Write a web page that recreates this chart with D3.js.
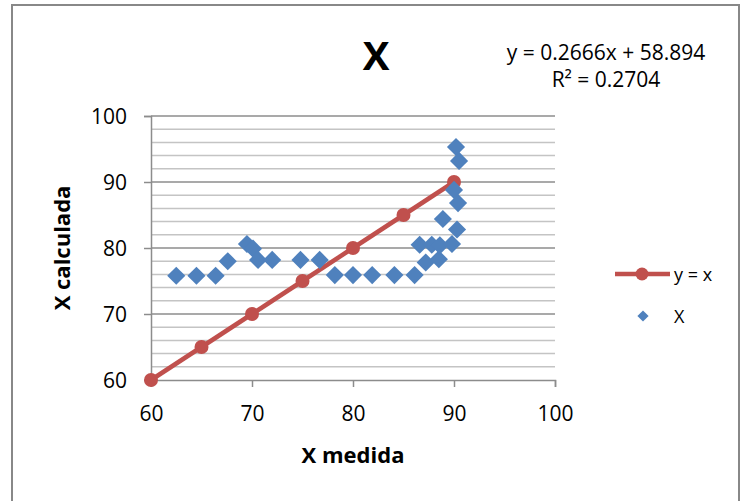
<!DOCTYPE html>
<html><head><meta charset="utf-8">
<script src="https://cdn.jsdelivr.net/npm/d3@7"></script>
<style>body{margin:0;background:#fff}svg{display:block}</style>
</head><body>
<svg id="c" width="745" height="501"></svg>
<script>
// Data
const lineX = [60, 65, 70, 75, 80, 85, 90];
const lineY = [60, 65, 70, 75, 80, 85, 90];
const scatX = [62.5, 64.5, 66.4, 67.6, 69.5, 70.1, 70.6, 72.0, 74.8, 76.7, 78.2, 80.0, 81.9, 84.1, 86.1, 86.6, 87.2, 87.8, 88.5, 88.6, 88.9, 89.8, 90.3, 90.0, 90.4, 90.2, 90.5];
const scatY = [75.8, 75.8, 75.8, 78.0, 80.6, 79.9, 78.2, 78.2, 78.2, 78.2, 75.9, 75.9, 75.9, 75.9, 75.9, 80.5, 77.8, 80.5, 78.3, 80.4, 84.4, 80.6, 82.8, 88.8, 86.8, 95.3, 93.2];
const xTicks = [60, 70, 80, 90, 100];
const yTicks = [60, 70, 80, 90, 100];
const yMinor = d3.range(60, 100.01, 2);
const titleText = "X";
const eqText = ["y = 0.2666x + 58.894", "R² = 0.2704"];
const xTitle = "X medida", yTitle = "X calculada";
const seriesNames = ["y = x", "X"];

const FONT = "'Open Sans', 'Liberation Sans', sans-serif";
const svg = d3.select("#c");
const L = 151, R = 555, T = 116, B = 380;
const x = d3.scaleLinear().domain([60, 100]).range([L, R]);
const y = d3.scaleLinear().domain([60, 100]).range([B, T]);

// frame
svg.append("path").attr("d", "M12,520 V5 H739 V520").attr("fill", "none").attr("stroke", "#888").attr("stroke-width", 2);

// minor gridlines
svg.append("g").selectAll("line").data(yMinor.filter(v => v % 10 !== 0)).join("line")
  .attr("x1", L).attr("x2", R).attr("y1", d => y(d)).attr("y2", d => y(d))
  .attr("stroke", "#c4c4c4").attr("stroke-width", 1.5);
// major gridlines
svg.append("g").selectAll("line").data(yTicks.filter(v => v > 60)).join("line")
  .attr("x1", L).attr("x2", R).attr("y1", d => y(d)).attr("y2", d => y(d))
  .attr("stroke", "#8c8c8c").attr("stroke-width", 1.5);

// axes
const xAxis = svg.append("g").attr("transform", `translate(0,${B})`)
  .call(d3.axisBottom(x).tickValues(xTicks).tickSize(7).tickPadding(19));
const yAxis = svg.append("g").attr("transform", `translate(${L},0)`)
  .call(d3.axisLeft(y).tickValues(yTicks).tickSize(7).tickPadding(17));
[xAxis, yAxis].forEach(a => {
  a.select(".domain").attr("stroke", "#8c8c8c").attr("stroke-width", 1.5);
  a.selectAll(".tick line").attr("stroke", "#8c8c8c").attr("stroke-width", 1.5);
  a.selectAll("text").attr("font-family", FONT).attr("font-size", 21).attr("fill", "#000");
});
yAxis.selectAll("text").attr("dy", "0.35em");

// y = x line
const pts = lineX.map((v, i) => [v, lineY[i]]);
svg.append("path").datum(pts)
  .attr("d", d3.line().x(d => x(d[0])).y(d => y(d[1])))
  .attr("fill", "none").attr("stroke", "#C0504D").attr("stroke-width", 4.5);
svg.append("g").selectAll("circle").data(pts).join("circle")
  .attr("cx", d => x(d[0])).attr("cy", d => y(d[1])).attr("r", 7).attr("fill", "#C0504D");

// scatter diamonds
const diamond = d3.symbol().type(d3.symbolDiamond2).size(210);
svg.append("g").selectAll("path").data(scatX.map((v, i) => [v, scatY[i]])).join("path")
  .attr("d", diamond).attr("transform", d => `translate(${x(d[0])},${y(d[1])})`)
  .attr("fill", "#4F81BD");

// title
svg.append("text").attr("x", 376).attr("y", 70).attr("text-anchor", "middle")
  .attr("font-family", FONT).attr("font-weight", "bold").attr("font-size", 40).text(titleText);
// equation
eqText.forEach((t, i) => svg.append("text").attr("x", 606).attr("y", 60 + i * 27)
  .attr("text-anchor", "middle").attr("font-family", FONT).attr("font-size", 21).text(t));

// axis titles
svg.append("text").attr("x", 353).attr("y", 463).attr("text-anchor", "middle")
  .attr("font-family", FONT).attr("font-weight", "bold").attr("font-size", 22).text(xTitle);
svg.append("text").attr("transform", "translate(70,248) rotate(-90)").attr("text-anchor", "middle")
  .attr("font-family", FONT).attr("font-weight", "bold").attr("font-size", 22).text(yTitle);

// legend
const lg = svg.append("g");
lg.append("line").attr("x1", 615).attr("x2", 670).attr("y1", 274).attr("y2", 274)
  .attr("stroke", "#C0504D").attr("stroke-width", 4.5);
lg.append("circle").attr("cx", 642).attr("cy", 274).attr("r", 6.5).attr("fill", "#C0504D");
lg.append("text").attr("x", 674).attr("y", 281).attr("font-family", FONT).attr("font-size", 18).text(seriesNames[0]);
lg.append("path").attr("d", d3.symbol().type(d3.symbolDiamond2).size(80))
  .attr("transform", "translate(643,316)").attr("fill", "#4F81BD");
lg.append("text").attr("x", 674).attr("y", 323).attr("font-family", FONT).attr("font-size", 18).text(seriesNames[1]);
</script>
</body></html>
